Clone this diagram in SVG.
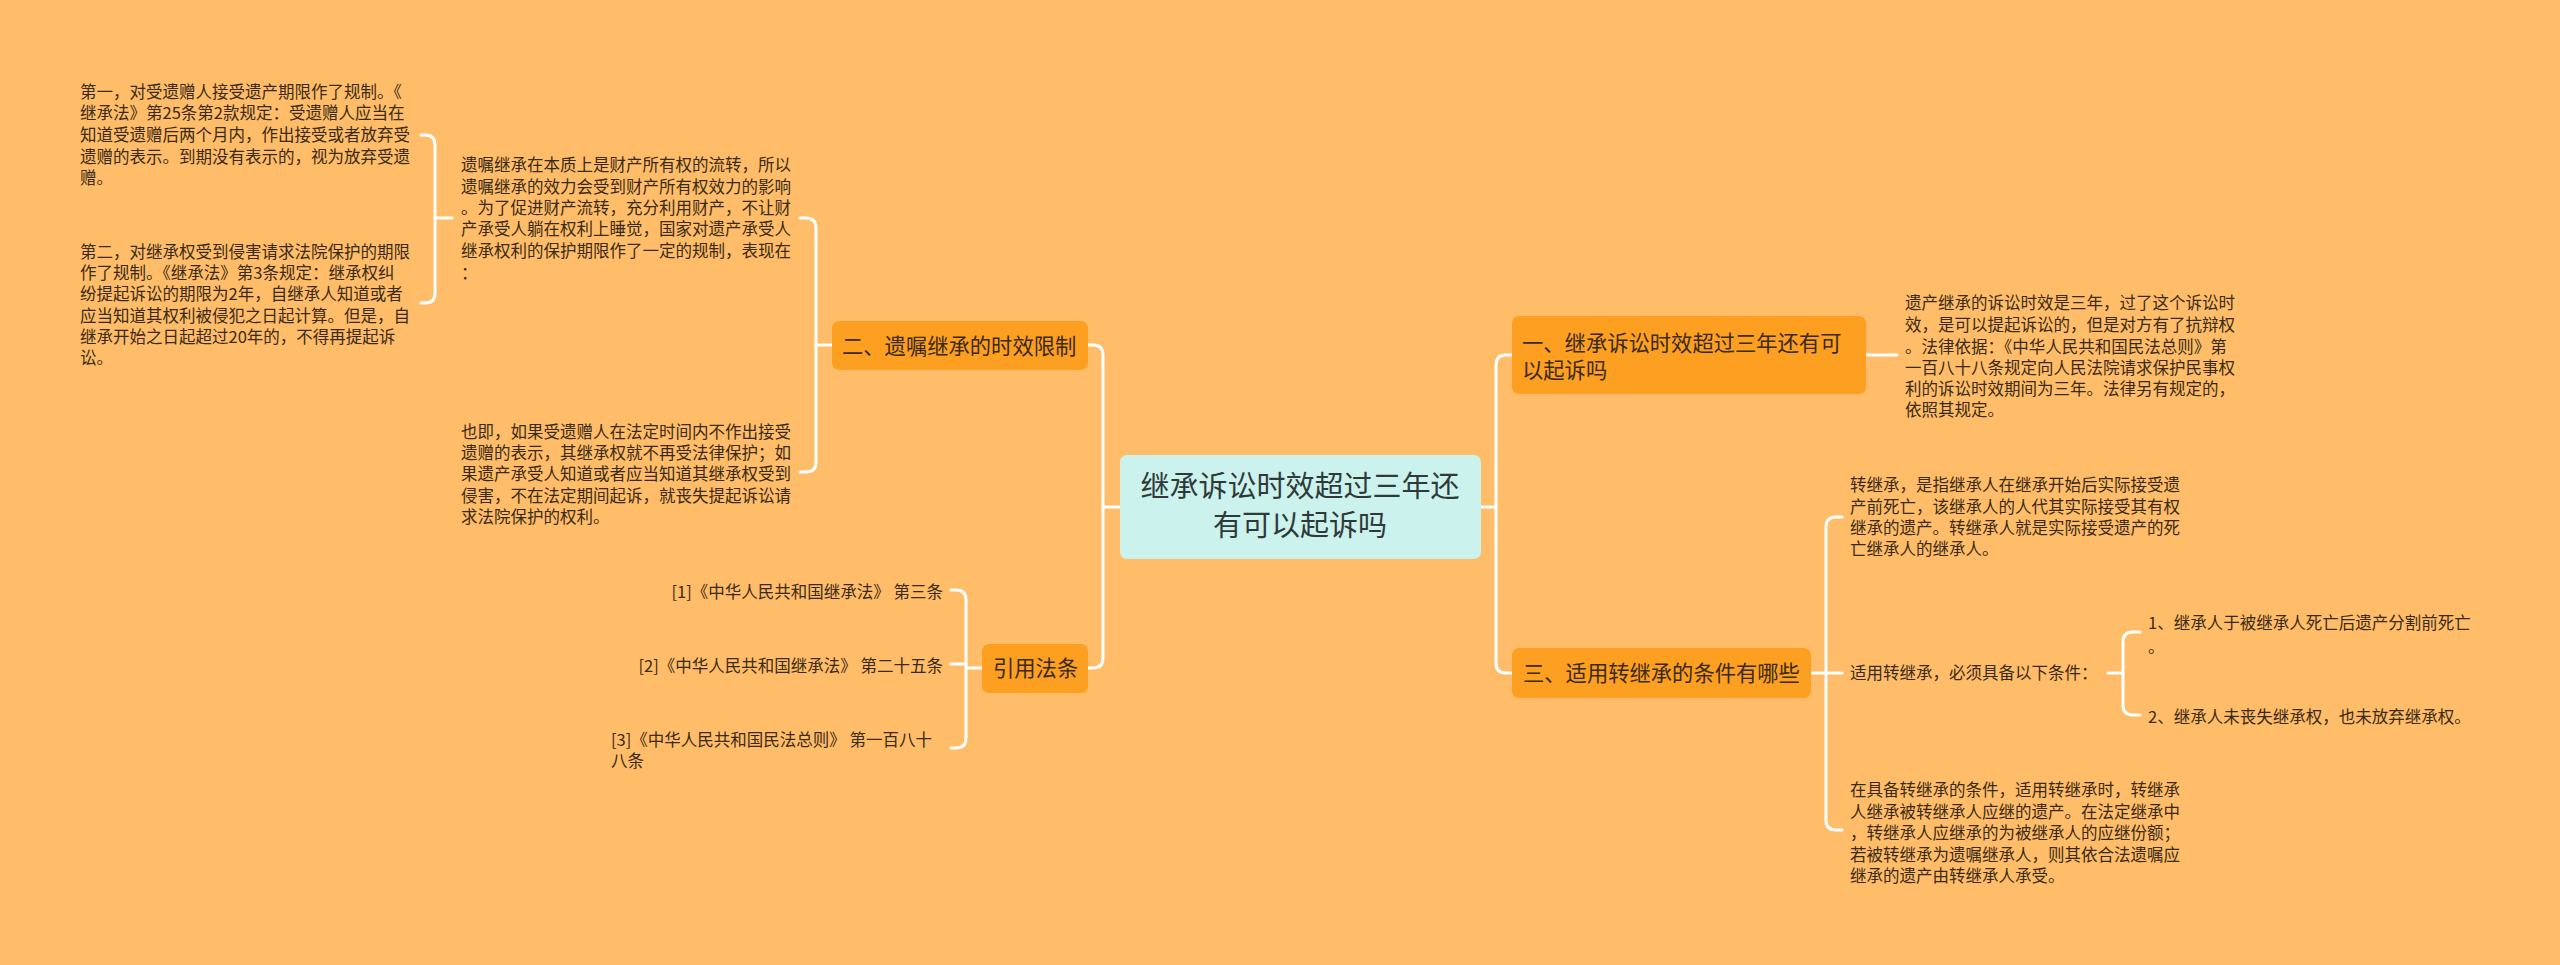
<svg xmlns="http://www.w3.org/2000/svg" width="2560" height="965" viewBox="0 0 2560 965">
<style>
.bg{fill:#ffbd6a}
.root{fill:#ccf2ee}
.br{fill:#fd9f21}
.t{font-family:"Noto Sans CJK SC","Noto Sans",sans-serif;fill:#3a2a14}
.rt{font-size:29px;fill:#2f3a38}
.bt{font-size:21.3px}
.lt{font-size:16.5px}
.c{fill:none;stroke:#ffffff;stroke-width:3;stroke-linecap:round}
</style>
<rect class="bg" x="0" y="0" width="2560" height="965"/>
<g id="connectors">
<path class="c" d="M1481,507 H1496"/>
<path class="c" d="M1512,355 H1506 Q1496,355 1496,365 V663 Q1496,673 1506,673 H1512"/>
<path class="c" d="M1120,507 H1103"/>
<path class="c" d="M1088,345 H1093 Q1103,345 1103,355 V658 Q1103,668 1093,668 H1088"/>
<path class="c" d="M832,345 H816"/>
<path class="c" d="M800,218 H806 Q816,218 816,228 V462 Q816,472 806,472 H800"/>
<path class="c" d="M452,218 H435"/>
<path class="c" d="M421,135 H425 Q435,135 435,145 V293 Q435,303 425,303 H421"/>
<path class="c" d="M982,668 H966"/>
<path class="c" d="M951,590 H956 Q966,590 966,600 V738 Q966,748 956,748 H951"/>
<path class="c" d="M951,664 H966"/>
<path class="c" d="M1866,355 H1897"/>
<path class="c" d="M1811,673 H1826"/>
<path class="c" d="M1842,517 H1836 Q1826,517 1826,527 V820 Q1826,830 1836,830 H1842"/>
<path class="c" d="M1826,673 H1842"/>
<path class="c" d="M2108,673 H2123"/>
<path class="c" d="M2140,632 H2133 Q2123,632 2123,642 V705 Q2123,715 2133,715 H2140"/>
</g>
<g id="root">
<rect class="root" x="1120" y="455" width="361" height="104" rx="7"/>
<text class="t rt" text-anchor="middle"><tspan x="1300" y="497">继承诉讼时效超过三年还</tspan><tspan x="1300" y="536">有可以起诉吗</tspan></text>
</g>
<g id="b1">
<rect class="br" x="1512" y="316" width="354" height="78" rx="7"/>
<text class="t bt"><tspan x="1522" y="351">一、继承诉讼时效超过三年还有可</tspan><tspan x="1522" y="378">以起诉吗</tspan></text>
</g>
<g id="b3">
<rect class="br" x="1512" y="648" width="299" height="50" rx="7"/>
<text class="t bt" x="1523" y="681">三、适用转继承的条件有哪些</text>
</g>
<g id="b2">
<rect class="br" x="832" y="321" width="256" height="49" rx="7"/>
<text class="t bt" x="842" y="354">二、遗嘱继承的时效限制</text>
</g>
<g id="b4">
<rect class="br" x="982" y="644" width="106" height="49" rx="7"/>
<text class="t bt" x="993" y="676">引用法条</text>
</g>
<g id="n-b1-1">
<text class="t lt"><tspan x="1905" y="309">遗产继承的诉讼时效是三年，过了这个诉讼时</tspan><tspan x="1905" y="331">效，是可以提起诉讼的，但是对方有了抗辩权</tspan><tspan x="1905" y="353">。法律依据：《中华人民共和国民法总则》第</tspan><tspan x="1905" y="374">一百八十八条规定向人民法院请求保护民事权</tspan><tspan x="1905" y="395">利的诉讼时效期间为三年。法律另有规定的，</tspan><tspan x="1905" y="416">依照其规定。</tspan></text>
</g>
<g id="n-b3-1">
<text class="t lt"><tspan x="1850" y="491">转继承，是指继承人在继承开始后实际接受遗</tspan><tspan x="1850" y="513">产前死亡，该继承人的人代其实际接受其有权</tspan><tspan x="1850" y="534">继承的遗产。转继承人就是实际接受遗产的死</tspan><tspan x="1850" y="555">亡继承人的继承人。</tspan></text>
</g>
<g id="n-b3-2">
<text class="t lt" x="1850" y="679">适用转继承，必须具备以下条件：</text>
</g>
<g id="n-b3-2-1">
<text class="t lt"><tspan x="2148" y="629">1、继承人于被继承人死亡后遗产分割前死亡</tspan><tspan x="2148" y="653">。</tspan></text>
</g>
<g id="n-b3-2-2">
<text class="t lt" x="2148" y="723">2、继承人未丧失继承权，也未放弃继承权。</text>
</g>
<g id="n-b3-3">
<text class="t lt"><tspan x="1850" y="796">在具备转继承的条件，适用转继承时，转继承</tspan><tspan x="1850" y="818">人继承被转继承人应继的遗产。在法定继承中</tspan><tspan x="1850" y="839">，转继承人应继承的为被继承人的应继份额；</tspan><tspan x="1850" y="861">若被转继承为遗嘱继承人，则其依合法遗嘱应</tspan><tspan x="1850" y="882">继承的遗产由转继承人承受。</tspan></text>
</g>
<g id="n-b2-1">
<text class="t lt"><tspan x="461" y="171">遗嘱继承在本质上是财产所有权的流转，所以</tspan><tspan x="461" y="193">遗嘱继承的效力会受到财产所有权效力的影响</tspan><tspan x="461" y="214">。为了促进财产流转，充分利用财产，不让财</tspan><tspan x="461" y="235">产承受人躺在权利上睡觉，国家对遗产承受人</tspan><tspan x="461" y="257">继承权利的保护期限作了一定的规制，表现在</tspan><tspan x="461" y="279">：</tspan></text>
</g>
<g id="n-b2-1-1">
<text class="t lt"><tspan x="80" y="98">第一，对受遗赠人接受遗产期限作了规制。《</tspan><tspan x="80" y="119">继承法》第25条第2款规定：受遗赠人应当在</tspan><tspan x="80" y="141">知道受遗赠后两个月内，作出接受或者放弃受</tspan><tspan x="80" y="163">遗赠的表示。到期没有表示的，视为放弃受遗</tspan><tspan x="80" y="184">赠。</tspan></text>
</g>
<g id="n-b2-1-2">
<text class="t lt"><tspan x="80" y="258">第二，对继承权受到侵害请求法院保护的期限</tspan><tspan x="80" y="279">作了规制。《继承法》第3条规定：继承权纠</tspan><tspan x="80" y="300">纷提起诉讼的期限为2年，自继承人知道或者</tspan><tspan x="80" y="322">应当知道其权利被侵犯之日起计算。但是，自</tspan><tspan x="80" y="343">继承开始之日起超过20年的，不得再提起诉</tspan><tspan x="80" y="364">讼。</tspan></text>
</g>
<g id="n-b2-2">
<text class="t lt"><tspan x="461" y="438">也即，如果受遗赠人在法定时间内不作出接受</tspan><tspan x="461" y="459">遗赠的表示，其继承权就不再受法律保护；如</tspan><tspan x="461" y="480">果遗产承受人知道或者应当知道其继承权受到</tspan><tspan x="461" y="502">侵害，不在法定期间起诉，就丧失提起诉讼请</tspan><tspan x="461" y="523">求法院保护的权利。</tspan></text>
</g>
<g id="n-b4-1">
<text class="t lt" x="943" y="598" text-anchor="end">[1]《中华人民共和国继承法》 第三条</text>
</g>
<g id="n-b4-2">
<text class="t lt" x="943" y="672" text-anchor="end">[2]《中华人民共和国继承法》 第二十五条</text>
</g>
<g id="n-b4-3">
<text class="t lt"><tspan x="611" y="746">[3]《中华人民共和国民法总则》 第一百八十</tspan><tspan x="611" y="767">八条</tspan></text>
</g>
</svg>
